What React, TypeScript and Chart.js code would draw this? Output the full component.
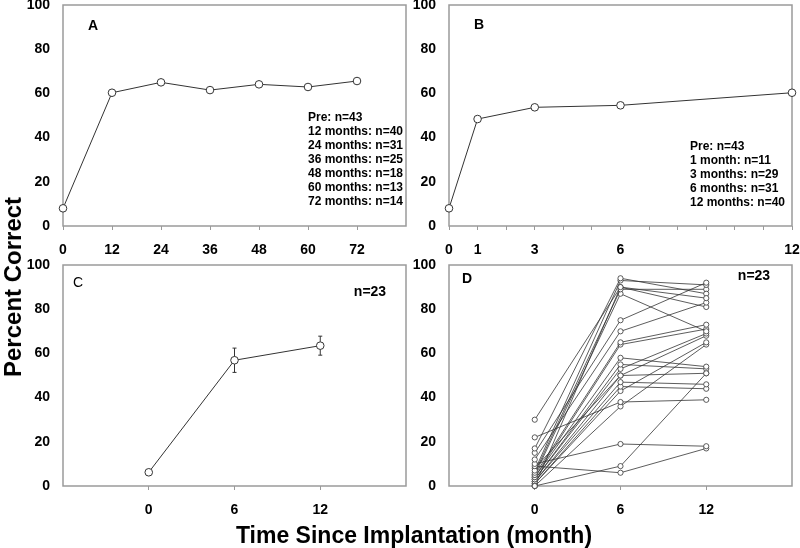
import React, { useEffect, useRef } from 'react';
import { Chart, registerables } from 'chart.js';
Chart.register(...registerables);

const FONT = '"Liberation Sans", Arial, Helvetica, sans-serif';

// ---------- data ----------
const yTickValues = [0, 20, 40, 60, 80, 100];

const monthsA = [0, 12, 24, 36, 48, 60, 72];
const valuesA = [8.0, 60.3, 65.0, 61.5, 64.1, 62.9, 65.6];
const xTicksA = [0, 12, 24, 36, 48, 60, 72];
const legendA = [
  'Pre: n=43',
  '12 months: n=40',
  '24 months: n=31',
  '36 months: n=25',
  '48 months: n=18',
  '60 months: n=13',
  '72 months: n=14',
];

const monthsB = [0, 1, 3, 6, 12];
const valuesB = [8.0, 48.4, 53.7, 54.6, 60.3];
const xTicksB = [0, 1, 2, 3, 4, 5, 6, 7, 8, 9, 10, 11, 12];
const xLabelsB = [0, 1, 3, 6, 12];
const legendB = [
  'Pre: n=43',
  '1 month: n=11',
  '3 months: n=29',
  '6 months: n=31',
  '12 months: n=40',
];

const monthsC = [0, 6, 12];
const meanC = [6.2, 56.9, 63.5];
const errC = [1.2, 5.5, 4.3];
const xTicksCD = [0, 6, 12];

const monthsD = [0, 6, 12];
const preD = [30, 22, 17, 15, 12, 10, 9, 0, 7, 6, 5, 5, 4, 4, 3, 3, 2, 2, 1, 1, 0, 0, 8];
const sixD = [90, 38, 94, 75, 70, 19, 6, 9, 93, 89, 87, 65, 64, 58, 55, 53, 50, 47, 45, 43, 36, 90, 50];
const twelveD = [85, 39, 87, 92, 83, 18, 17, 51, 91, 89, 70, 73, 71, 54, 53, 69, 51, 46, 44, 65, 64, 81, 68];

// ---------- helpers ----------
type TextItem = { text: string; dx: number; dy: number; size: number; bold: boolean; align: CanvasTextAlign };

const framePlugin = {
  id: 'frameBox',
  beforeDatasetsDraw(chart: any) {
    const { ctx, chartArea: a } = chart;
    ctx.save();
    ctx.strokeStyle = '#9a9a9a';
    ctx.lineWidth = 1.5;
    ctx.strokeRect(a.left, a.top, a.right - a.left, a.bottom - a.top);
    ctx.restore();
  },
};

function textPlugin(items: TextItem[]) {
  return {
    id: 'panelTexts',
    afterDatasetsDraw(chart: any) {
      const { ctx, chartArea: a } = chart;
      ctx.save();
      ctx.fillStyle = '#000';
      ctx.textBaseline = 'middle';
      for (const it of items) {
        ctx.font = `${it.bold ? 'bold ' : ''}${it.size}px ${FONT}`;
        ctx.textAlign = it.align;
        ctx.fillText(it.text, a.left + it.dx, a.top + it.dy);
      }
      ctx.restore();
    },
  };
}

function errorPlugin(xs: number[], means: number[], errs: number[]) {
  return {
    id: 'errorBars',
    beforeDatasetsDraw(chart: any) {
      const { ctx } = chart;
      const xs_ = chart.scales.x;
      const ys_ = chart.scales.y;
      ctx.save();
      ctx.strokeStyle = '#333';
      ctx.lineWidth = 1;
      xs.forEach((xv, i) => {
        const px = xs_.getPixelForValue(xv);
        const y1 = ys_.getPixelForValue(means[i] + errs[i]);
        const y2 = ys_.getPixelForValue(means[i] - errs[i]);
        ctx.beginPath();
        ctx.moveTo(px, y1);
        ctx.lineTo(px, y2);
        ctx.moveTo(px - 2, y1);
        ctx.lineTo(px + 2, y1);
        ctx.moveTo(px - 2, y2);
        ctx.lineTo(px + 2, y2);
        ctx.stroke();
      });
      ctx.restore();
    },
  };
}

function lineDataset(xs: number[], ys: number[], radius: number, width: number) {
  return {
    data: xs.map((x, i) => ({ x, y: ys[i] })),
    borderColor: '#333',
    borderWidth: width,
    pointRadius: radius,
    pointBackgroundColor: '#fff',
    pointBorderColor: '#333',
    pointBorderWidth: width,
    clip: false as any,
    tension: 0,
  };
}

type PanelCfg = {
  datasets: any[];
  xMin: number;
  xMax: number;
  xTicks: number[];
  xLabels?: number[];
  padding: { left: number; top: number; right: number; bottom: number };
  yWidth: number;
  xHeight: number;
  plugins: any[];
};

function makeConfig(p: PanelCfg): any {
  const tickFont = { family: FONT, size: 14, weight: 'bold' as const };
  return {
    type: 'line',
    data: { datasets: p.datasets },
    options: {
      animation: false,
      responsive: false,
      events: [],
      layout: { padding: p.padding },
      plugins: { legend: { display: false }, tooltip: { enabled: false }, title: { display: false } },
      scales: {
        x: {
          type: 'linear',
          min: p.xMin,
          max: p.xMax,
          afterBuildTicks: (s: any) => {
            s.ticks = p.xTicks.map((v) => ({ value: v }));
          },
          afterFit: (s: any) => {
            s.height = p.xHeight;
            s.paddingLeft = 0;
            s.paddingRight = 0;
          },
          ticks: {
            font: tickFont,
            color: '#000',
            padding: 12,
            maxRotation: 0,
            autoSkip: false,
            callback: (v: any) => {
              const n = Number(v);
              if (p.xLabels && !p.xLabels.includes(n)) return '';
              return String(n);
            },
          },
          grid: { display: true, drawOnChartArea: false, drawTicks: true, tickLength: 4, color: '#9a9a9a', lineWidth: 1 },
          border: { display: false },
        },
        y: {
          type: 'linear',
          min: 0,
          max: 100,
          afterBuildTicks: (s: any) => {
            s.ticks = yTickValues.map((v) => ({ value: v }));
          },
          afterFit: (s: any) => {
            s.width = p.yWidth;
            s.paddingTop = 0;
            s.paddingBottom = 0;
          },
          ticks: { font: tickFont, color: '#000', padding: 13 },
          grid: { display: false, drawTicks: false },
          border: { display: false },
        },
      },
    },
    plugins: [framePlugin, ...p.plugins],
  };
}

function Panel(props: { left: number; top: number; width: number; height: number; build: () => any }) {
  const ref = useRef<HTMLCanvasElement>(null);
  useEffect(() => {
    const chart = new Chart(ref.current as HTMLCanvasElement, props.build());
    return () => chart.destroy();
  }, []);
  return (
    <canvas
      ref={ref}
      width={props.width}
      height={props.height}
      style={{ position: 'absolute', left: props.left, top: props.top, width: props.width, height: props.height, display: 'block' }}
    />
  );
}

const legendItems = (lines: string[], dx: number, dy0: number): TextItem[] =>
  lines.map((t, i) => ({ text: t, dx, dy: dy0 + i * 14, size: 12, bold: true, align: 'left' as CanvasTextAlign }));

export default function App() {
  const buildA = () =>
    makeConfig({
      datasets: [lineDataset(monthsA, valuesA, 3.8, 1)],
      xMin: 0,
      xMax: 84,
      xTicks: xTicksA,
      padding: { left: 0, top: 5, right: 14, bottom: 0 },
      yWidth: 63,
      xHeight: 32,
      plugins: [
        textPlugin([
          { text: 'A', dx: 30, dy: 21, size: 14, bold: true, align: 'center' },
          ...legendItems(legendA, 245, 113),
        ]),
      ],
    });
  const buildB = () =>
    makeConfig({
      datasets: [lineDataset(monthsB, valuesB, 3.8, 1)],
      xMin: 0,
      xMax: 12,
      xTicks: xTicksB,
      xLabels: xLabelsB,
      padding: { left: 0, top: 5, right: 8, bottom: 0 },
      yWidth: 49,
      xHeight: 32,
      plugins: [
        textPlugin([
          { text: 'B', dx: 30, dy: 20, size: 14, bold: true, align: 'center' },
          ...legendItems(legendB, 241, 142),
        ]),
      ],
    });
  const buildC = () =>
    makeConfig({
      datasets: [lineDataset(monthsC, meanC, 3.8, 1)],
      xMin: -6,
      xMax: 18,
      xTicks: xTicksCD,
      padding: { left: 0, top: 7, right: 14, bottom: 0 },
      yWidth: 63,
      xHeight: 62,
      plugins: [
        errorPlugin(monthsC, meanC, errC),
        textPlugin([
          { text: 'C', dx: 15, dy: 18, size: 14, bold: false, align: 'center' },
          { text: 'n=23', dx: 307, dy: 27, size: 14, bold: true, align: 'center' },
        ]),
      ],
    });
  const buildD = () =>
    makeConfig({
      datasets: preD.map((_, i) => lineDataset(monthsD, [preD[i], sixD[i], twelveD[i]], 2.6, 0.8)),
      xMin: -6,
      xMax: 18,
      xTicks: xTicksCD,
      padding: { left: 0, top: 7, right: 8, bottom: 0 },
      yWidth: 49,
      xHeight: 62,
      plugins: [
        textPlugin([
          { text: 'D', dx: 18, dy: 14, size: 14, bold: true, align: 'center' },
          { text: 'n=23', dx: 305, dy: 11, size: 14, bold: true, align: 'center' },
        ]),
      ],
    });

  return (
    <div style={{ position: 'absolute', left: 0, top: 0, width: 800, height: 548, background: '#fff', overflow: 'hidden' }}>
      <Panel left={0} top={0} width={420} height={258} build={buildA} />
      <Panel left={400} top={0} width={400} height={258} build={buildB} />
      <Panel left={0} top={258} width={420} height={290} build={buildC} />
      <Panel left={400} top={258} width={400} height={290} build={buildD} />
      <div
        style={{
          position: 'absolute',
          left: 13,
          top: 287,
          transform: 'translate(-50%, -50%) rotate(-90deg)',
          fontFamily: FONT,
          fontWeight: 'bold',
          fontSize: 24,
          lineHeight: 1,
          whiteSpace: 'nowrap',
          color: '#000',
        }}
      >
        Percent Correct
      </div>
      <div
        style={{
          position: 'absolute',
          left: 414,
          top: 535,
          transform: 'translate(-50%, -50%)',
          fontFamily: FONT,
          fontWeight: 'bold',
          fontSize: 23,
          lineHeight: 1,
          whiteSpace: 'nowrap',
          color: '#000',
        }}
      >
        Time Since Implantation (month)
      </div>
    </div>
  );
}
